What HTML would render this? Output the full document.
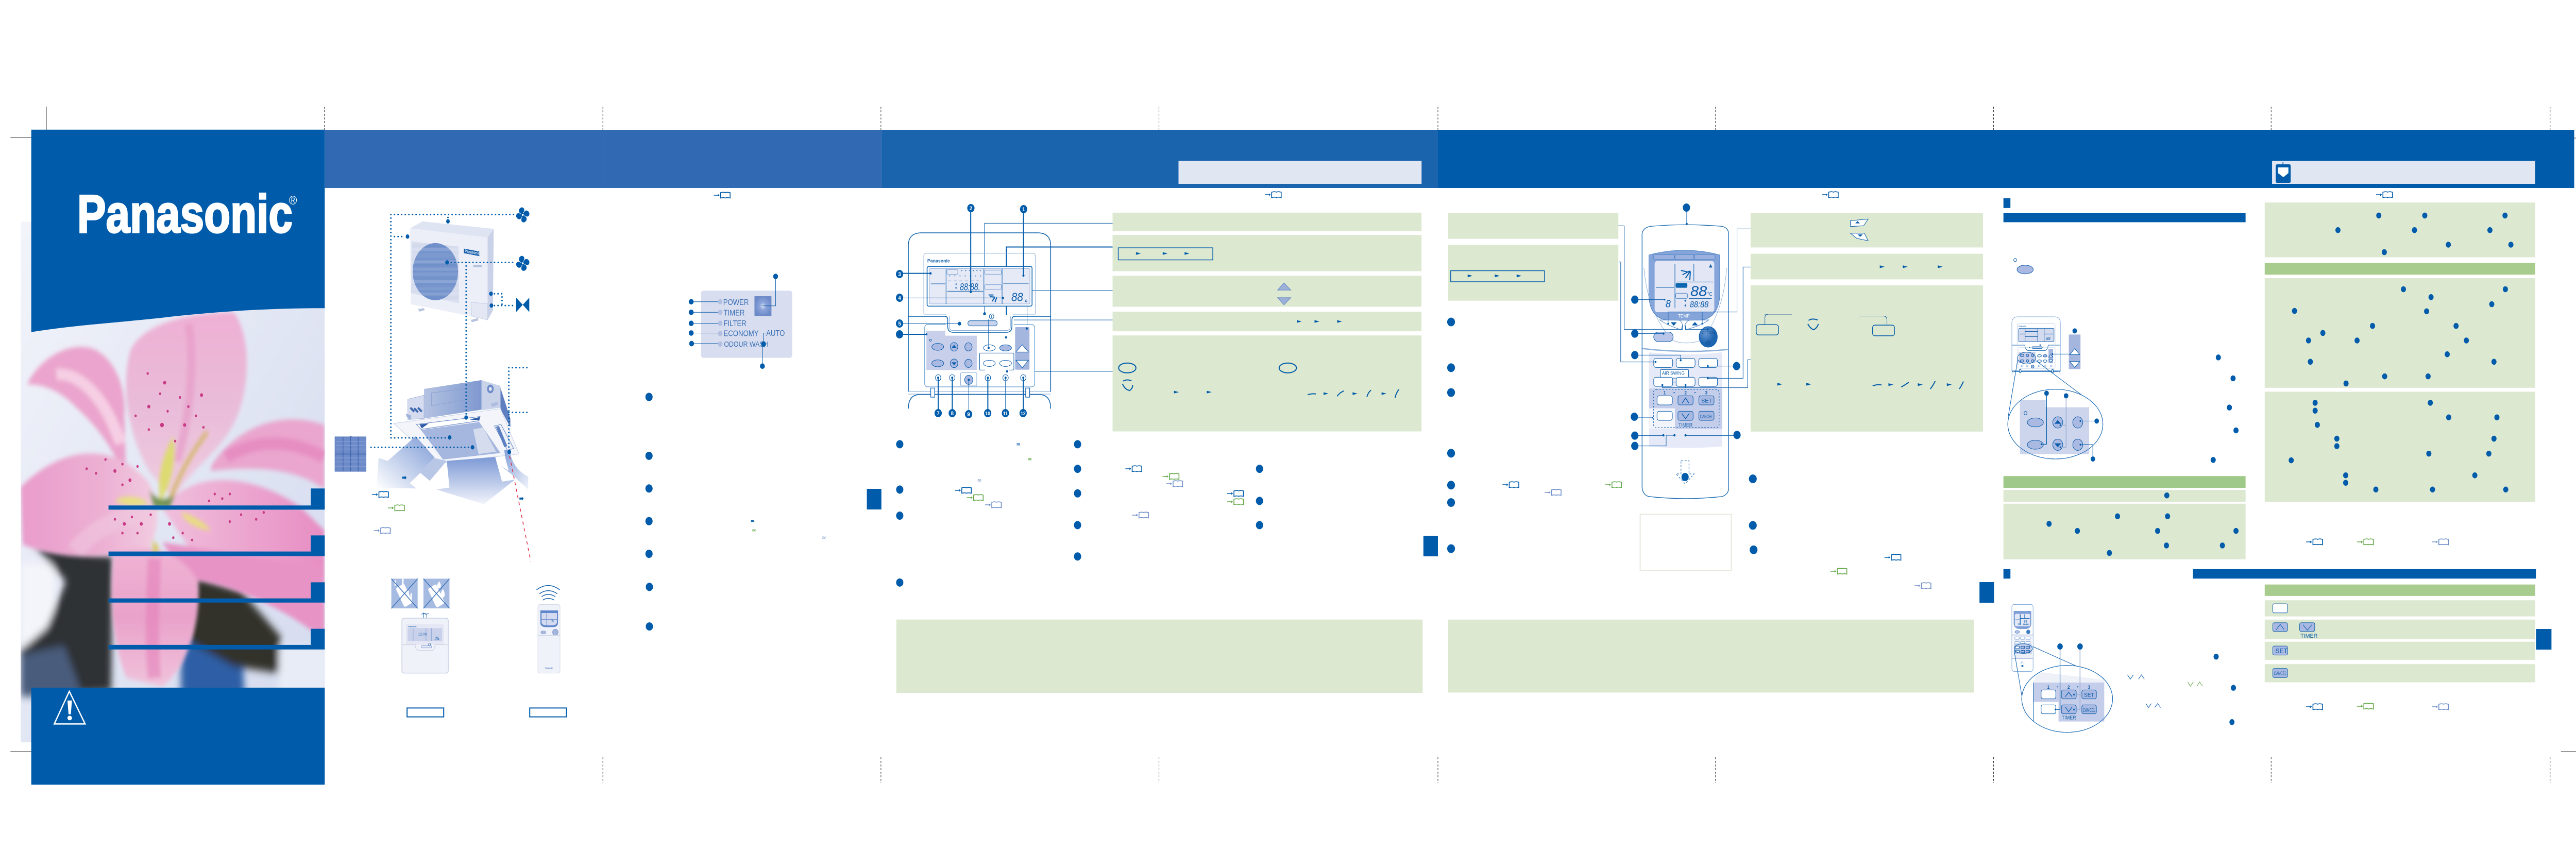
<!DOCTYPE html>
<html><head><meta charset="utf-8"><title>Panasonic</title>
<style>
html,body{margin:0;padding:0;background:#fff;width:100%;height:100%;overflow:hidden}
svg{display:block;width:100vw;height:100vh;font-family:"Liberation Sans",sans-serif}
svg *{vector-effect:non-scaling-stroke}
.l{fill:none;stroke:#005baa;stroke-width:1.4}
.t{fill:none;stroke:#005baa;stroke-width:2}
.tt{fill:none;stroke:#0a5cab;stroke-width:1}
.lb{fill:none;stroke:#7ba3d6;stroke-width:1}
.dot{fill:none;stroke:#005baa;stroke-width:3;stroke-linecap:round;stroke-dasharray:0 7}
.g{fill:#dce8d0}
.gh{fill:#a6cb8c}
.bl{fill:#005baa}
.bb{fill:#a9b9e2;stroke:#0a5cab;stroke-width:1}
.wb{fill:#fff;stroke:#0a5cab;stroke-width:1}
.cm{stroke:#333;stroke-width:1;fill:none}
.cd{stroke:#333;stroke-width:1;fill:none;stroke-dasharray:4 3}
text{fill:#0a5cab}
</style></head><body>
<svg xmlns="http://www.w3.org/2000/svg" viewBox="0 0 5670 1685" preserveAspectRatio="none">
<defs>
<ellipse id="d1" rx="9.6" ry="9" fill="#005baa"/>
<ellipse id="d3" rx="9.6" ry="10.9" fill="#005baa"/>
<ellipse id="d4" rx="10.4" ry="11" fill="#005baa"/>
<ellipse id="d5" rx="7" ry="7.5" fill="#005baa"/>
<circle id="dd" r="24" fill="#005baa"/>
<path id="tri" d="M-6-3.5L7 0-6 3.5z" fill="#005baa"/>
<g id="bk"><path d="M0 0H9" stroke="currentColor" stroke-width="1.5" fill="none"/><path d="M9-2.5L13 0 9 2.5z" fill="currentColor"/><path d="M15-5q7-1.600 10.500 0q3.500-1.600 10.500 0v10.500q-7-1.600-10.500 0q-3.500-1.600-10.500 0z" fill="none" stroke="currentColor" stroke-width="1.6"/></g>
<path id="bl" d="M-4-6C-30-6-34-36-8-44C14-44 16-20 -4-6Z" fill="#005baa"/>
<g id="fan"><circle r="12" fill="#005baa"/><use href="#bl"/><use href="#bl" transform="rotate(90)"/><use href="#bl" transform="rotate(180)"/><use href="#bl" transform="rotate(270)"/><circle r="6" fill="#fff"/></g>
<linearGradient id="bg" x1="0" y1="0" x2="1" y2="1"><stop offset="0" stop-color="#f2f4fa"/><stop offset=".6" stop-color="#dfe4f3"/><stop offset="1" stop-color="#d3daee"/></linearGradient>
<linearGradient id="p1" x1="0" y1="0" x2="0" y2="1"><stop offset="0" stop-color="#eeb0d4"/><stop offset=".5" stop-color="#e9bcd9"/><stop offset="1" stop-color="#eeccdf"/></linearGradient>
<linearGradient id="p2" x1="0" y1="0" x2="1" y2="0"><stop offset="0" stop-color="#e99ccb"/><stop offset=".6" stop-color="#ecb0d3"/><stop offset="1" stop-color="#f2cce0"/></linearGradient>
<linearGradient id="p3" x1="0" y1="0" x2="1" y2="0"><stop offset="0" stop-color="#f0bfdc"/><stop offset="1" stop-color="#e78dc3"/></linearGradient>
<linearGradient id="p4" x1="0" y1="0" x2="0" y2="1"><stop offset="0" stop-color="#efb4d4"/><stop offset=".5" stop-color="#e9a2ca"/><stop offset="1" stop-color="#f0c2db"/></linearGradient>
<linearGradient id="air1" x1="1" y1="0" x2="0" y2="1"><stop offset="0" stop-color="#7e9bd6"/><stop offset="1" stop-color="#ffffff"/></linearGradient>
<linearGradient id="air2" x1="0" y1="0" x2="0" y2="1"><stop offset="0" stop-color="#7c99d5"/><stop offset="1" stop-color="#f2f4fb"/></linearGradient>
<linearGradient id="air3" x1="0" y1="0" x2="1" y2="1"><stop offset="0" stop-color="#7c99d5"/><stop offset="1" stop-color="#f2f4fb"/></linearGradient>
<linearGradient id="box" x1="0" y1="0" x2="1" y2="0"><stop offset="0" stop-color="#b4c3e2"/><stop offset="1" stop-color="#7e98cf"/></linearGradient>
<radialGradient id="sun"><stop offset="0" stop-color="#e8ecf8"/><stop offset=".35" stop-color="#8ea6dc"/><stop offset="1" stop-color="#6d8ac8"/></radialGradient>
<radialGradient id="onb" cx=".35" cy=".3"><stop offset="0" stop-color="#6e9ad4"/><stop offset="1" stop-color="#1d65b0"/></radialGradient>
<pattern id="grill" width="12" height="12" patternUnits="userSpaceOnUse"><rect width="12" height="12" fill="none"/><path d="M0 3H12M0 9H12" stroke="#ffffff" stroke-opacity=".55" stroke-width="1"/></pattern>
<filter id="b6" x="-10%" y="-10%" width="120%" height="120%"><feGaussianBlur stdDeviation="5"/></filter>
<filter id="b14" x="-20%" y="-20%" width="140%" height="140%"><feGaussianBlur stdDeviation="9"/></filter>
<clipPath id="ph"><rect x="55" y="258" width="807" height="1132"/></clipPath>
</defs>

<!-- crop marks -->
<path class="cm" d="M102 207V254M23 267H69M23 1459H81M102 1470V1520M5637 268H5670M5637 1459H5670"/>
<path class="cd" d="M1327 207V252M1939 207V252M2551 207V252M3165 207V252M3776 207V252M4388 207V252M4999 207V252M5613 207V252M714 207V252M1327 1470V1520M1939 1470V1520M2551 1470V1520M3165 1470V1520M3776 1470V1520M4388 1470V1520M4999 1470V1520M5613 1470V1520"/>

<!-- FLOWER -->
<g transform="translate(0,200) scale(.8292,.8929)">
 <g clip-path="url(#ph)">
  <rect x="55" y="258" width="807" height="1132" fill="url(#bg)"/>
  <g filter="url(#b14)">
   <rect x="55" y="1000" width="90" height="180" fill="#f4f5fa"/>
   <path d="M95 965L300 985 295 1280 55 1290 55 1190 125 1140 175 1040Z" fill="#2f3034"/>
   <path d="M55 1200L170 1180 220 1290H55Z" fill="#4a5c7c"/>
   <path d="M480 1170L640 1160 650 1290H480Z" fill="#2f5fa6"/>
   <path d="M520 1030L640 1060 745 1160 745 1240 620 1225 500 1170 510 1100Z" fill="#32322a"/>
   <rect x="740" y="1180" width="130" height="110" fill="#e8ecf6"/>
  </g>
  <g filter="url(#b6)">
   <path d="M72 612C100 560 180 515 250 535C300 555 335 610 330 680L335 820C290 730 240 690 200 660C160 625 110 610 72 612Z" fill="#eba4cd"/>
   <path d="M150 590C210 585 280 640 320 740" stroke="#f6cfe4" stroke-width="22" fill="none"/>
   <path d="M395 800C340 720 320 620 345 540C370 490 470 455 620 455C665 500 665 610 630 680C590 760 510 790 460 860Z" fill="url(#p1)"/>
   <path d="M500 480C520 560 500 700 470 780" stroke="#e89cc8" stroke-width="16" fill="none" opacity=".7"/>
   <path d="M560 790C620 710 740 665 862 700L862 840C780 790 660 790 560 800Z" fill="#eaa6ce"/>
   <path d="M600 770C680 730 770 730 862 770" stroke="#e583bd" stroke-width="24" fill="none" opacity=".7"/>
   <path d="M55 835C150 755 290 725 395 825C430 880 420 930 395 970C320 985 180 1000 60 960Z" fill="url(#p2)"/>
   <path d="M430 880C520 790 680 810 800 880L862 930V1030L530 1000Z" fill="url(#p3)"/>
   <path d="M430 955L862 1010V1170C780 1110 620 1045 500 1035Z" fill="#e893c6"/>
   <path d="M300 985C340 955 470 955 525 1040C535 1120 500 1230 430 1268L335 1250C300 1180 290 1080 300 985Z" fill="url(#p4)"/>
   <path d="M410 990C405 1080 400 1170 410 1250" stroke="#e47db8" stroke-width="26" fill="none" opacity=".55"/>
   <path d="M400 900C320 890 240 930 200 975" stroke="#f0c8e0" stroke-width="34" fill="none" opacity=".6"/>
  </g>
  <g filter="url(#b6)" opacity=".95">
   <path d="M460 725C470 780 450 840 425 865C415 810 435 760 460 725Z" fill="#dcdc6c"/>
   <path d="M550 715C510 760 480 800 450 865" stroke="#d4b86e" stroke-width="8" fill="none"/>
   <path d="M305 865C330 850 370 855 395 870C360 880 330 875 305 865Z" fill="#e6e37c"/>
   <path d="M480 890C510 895 550 915 560 930C520 925 490 910 480 890Z" fill="#e8e07c"/>
   <path d="M395 840C405 860 440 870 465 850L450 880H410Z" fill="#6f9050"/>
   <path d="M405 950C415 960 425 960 420 975L405 985Z" fill="#d8c86c"/>
  </g>
  <g fill="#c93a85">
   <circle cx="392" cy="588" r="3"/><circle cx="437" cy="608" r="4"/><circle cx="425" cy="632" r="3"/><circle cx="395" cy="660" r="4"/><circle cx="445" cy="670" r="3"/><circle cx="478" cy="640" r="3"/><circle cx="535" cy="635" r="4"/><circle cx="520" cy="680" r="3"/><circle cx="490" cy="700" r="4"/><circle cx="430" cy="700" r="5"/><circle cx="395" cy="710" r="3"/><circle cx="465" cy="735" r="3"/><circle cx="360" cy="680" r="3"/><circle cx="540" cy="705" r="3"/><circle cx="500" cy="660" r="3"/>
   <circle cx="305" cy="800" r="4"/><circle cx="325" cy="785" r="3"/><circle cx="280" cy="775" r="3"/><circle cx="255" cy="805" r="3"/><circle cx="345" cy="820" r="4"/><circle cx="365" cy="790" r="3"/><circle cx="325" cy="830" r="3"/><circle cx="230" cy="795" r="3"/>
   <circle cx="330" cy="915" r="4"/><circle cx="350" cy="900" r="3"/><circle cx="375" cy="915" r="4"/><circle cx="305" cy="905" r="3"/><circle cx="325" cy="935" r="3"/><circle cx="400" cy="895" r="3"/><circle cx="365" cy="935" r="3"/>
   <circle cx="450" cy="915" r="4"/><circle cx="485" cy="935" r="3"/><circle cx="510" cy="950" r="3"/><circle cx="460" cy="945" r="3"/><circle cx="570" cy="850" r="3"/><circle cx="590" cy="860" r="3"/><circle cx="610" cy="850" r="3"/><circle cx="555" cy="865" r="3"/><circle cx="640" cy="895" r="3"/><circle cx="680" cy="905" r="3"/><circle cx="700" cy="890" r="3"/><circle cx="610" cy="910" r="3"/>
  </g>
 </g>
 <!-- cover blue -->
 <path fill="#005baa" d="M83 58H862V446C720 446 600 452 460 464C340 476 200 482 83 498Z"/>
 <rect x="83" y="1271" width="779" height="211" fill="#005baa"/>
 <path fill="#005baa" d="M825 838H862V884H288V875H825ZM825 940H862V985H288V975H825ZM825 1042H862V1086H288V1077H825ZM825 1143H862V1188H288V1178H825Z"/>
 <path d="M184 1279L226 1350H144Z" fill="none" stroke="#fff" stroke-width="2.500"/>
 <path d="M179 1299H191L188 1329H182Z" fill="#fff"/><ellipse cx="185" cy="1337" rx="6" ry="5" fill="#fff"/>
</g>
<text x="170" y="451" font-size="104" font-weight="bold" textLength="474" lengthAdjust="spacingAndGlyphs" stroke="#fff" stroke-width="3" style="fill:#fff">Panasonic</text>
<text x="636" y="397" font-size="24" style="fill:#fff">®</text>

<!-- HEADERS -->
<rect x="715" y="252" width="612" height="113" fill="#3169b3"/>
<rect x="1327" y="252" width="613" height="113" fill="#3169b3"/>
<rect x="1940" y="252" width="1225" height="113" fill="#1a63ad"/>
<rect x="3165" y="252" width="2501" height="113" fill="#005baa"/>
<rect x="2594" y="312" width="535" height="45" fill="#e1e6f3"/>
<rect x="5001" y="312" width="579" height="45" fill="#e1e6f3"/>
<rect x="5009" y="319" width="33" height="36" rx="3" fill="#005baa"/>
<path d="M5014 325H5037V336L5026 344 5014 336Z" fill="#fff"/><path d="M5025 319V314" stroke="#005baa" stroke-width="1.500"/>

<!-- section tabs -->
<g class="bl">
<rect x="1908" y="949" width="32" height="40"/>
<rect x="3133" y="1040" width="32" height="40"/>
<rect x="4357" y="1130" width="32" height="40"/>
<rect x="5582" y="1221" width="34" height="40"/>
</g>

<!-- OUTDOOR / INDOOR -->
<g transform="translate(720,380) scale(.33333,.3827)">
 <polygon points="548,165 630,130 1100,168 1060,212" fill="#dfe4f2"/>
 <polygon points="548,165 1060,212 1060,630 880,600 552,550" fill="#eceff8"/>
 <polygon points="1060,212 1100,168 1095,582 1060,630" fill="#c9d2e8"/>
 <polygon points="558,232 868,258 870,545 555,495" fill="#d3daec"/>
 <ellipse cx="715" cy="385" rx="150" ry="145" fill="#6f8fca"/>
 <polygon points="558,232 868,258 870,545 555,495" fill="url(#grill)"/>
 <polygon points="903,268 1005,283 1005,306 903,291" fill="#0e5aa8"/>
 <text transform="translate(908,288) scale(1,1.150) rotate(6)" font-size="20" font-weight="bold" style="fill:#e6ecf8">Panasonic</text>
 <polygon points="950,540 1060,548 1060,630 955,610" fill="#e4e8f4" stroke="#c6cfe4"/>
 <path d="M965 352H1022V362H965Z" fill="#b2c0dc"/>
 <path d="M600 575L640 570 645 580 610 588ZM950 630L995 620 1000 632 955 642Z" fill="#b9c5df"/>

 <polygon points="640,980 1020,935 1020,1085 640,1130" fill="url(#box)"/>
 <polygon points="690,1000 950,975 950,1030 690,1065" fill="none" stroke="#8aa0d0"/>
 <polygon points="1020,935 1145,965 1145,1075 1020,1088" fill="#c8d2e9"/>
 <polygon points="1145,975 1210,1130 1210,1175 1145,1082" fill="#5f7fc0"/>
 <polygon points="533,1032 640,1012 640,1130 533,1135" fill="#d5dcef" stroke="#a8b8da"/>
 <circle cx="1078" cy="980" r="22" fill="#6f8dc8"/><circle cx="1078" cy="980" r="10" fill="#e2e7f4"/>
 <path d="M550 1075L575 1095M575 1078L600 1098M600 1075L625 1095" stroke="#3f69ae" stroke-width="4"/>
 <polygon points="520,1105 555,1115 550,1140 525,1120" fill="#9fb1da"/>
 <polygon points="1080,1055 1125,1045 1130,1060 1090,1072" fill="#aebddf"/>
 <polygon points="440,1155 1145,1080 1267,1310 730,1358" fill="#f3f5fb" stroke="#c4cfe6"/>
 <polygon points="590,1160 1010,1120 1000,1142 620,1185" fill="#fff" stroke="#5f80c0"/>
 <polygon points="620,1188 1005,1148 1145,1305 765,1338" fill="#a5b7de"/>
 <polygon points="965,1185 1030,1175 1115,1298 1000,1310" fill="#d5dcee"/>
 <polygon points="1105,1168 1148,1160 1232,1282 1190,1290" fill="#eef1f8" stroke="#5f80c0"/>
 <polygon points="1115,1172 1135,1168 1190,1270 1170,1275" fill="#5d80c2"/>
 <polygon points="940,1135 1010,1122 1005,1140" fill="#2f5ca6"/>
 <polygon points="610,1160 670,1155 625,1180" fill="#2f5ca6"/>
 <polygon points="340,1330 400,1345 585,1220 710,1328 610,1410 545,1458 590,1485 325,1482" fill="url(#air1)"/>
 <polygon points="610,1402 678,1446 790,1345 705,1330" fill="#b8c7e6"/>
 <polygon points="790,1345 1110,1325 1155,1450 1240,1440 1035,1565 722,1490 808,1480" fill="url(#air2)"/>
 <path d="M1170 1290L1205 1290C1215 1350 1260 1400 1328 1425V1490C1270 1450 1220 1410 1145 1370L1200 1395C1185 1355 1175 1330 1170 1290Z" fill="url(#air3)"/>
 <rect x="52" y="1223" width="205" height="175" fill="#6d8bc9" stroke="#4a6db5"/>
 <path d="M105 1225V1396M155 1225V1396M205 1225V1396M52 1310H257" stroke="#3f63ae" stroke-width="1.500"/>
 <path d="M52 1245H257M52 1265H257M52 1285H257M52 1330H257M52 1350H257M52 1372H257" stroke="#8ea7d8" stroke-width="1"/>
 <rect x="150" y="1218" width="12" height="7" fill="#5a7ac0"/>
 <path d="M495 1425h18v-5l12 10-12 10v-5h-18z" fill="#005baa"/>
 <path d="M1270 1531h16v-5l12 10-12 10v-5h-16z" fill="#005baa"/>

 <path class="dot" d="M421 95H1235M421 95V1228H790M798 110V95M445 207H510M820 338H1235M918 338V1120M1105 497H1155V557M1105 557H1235M1200 872V1290M1200 872H1325M1200 1099H1325M290 1276H945"/>
 <path d="M1205 1320L1345 1855" stroke="#e3304a" stroke-width="1.500" stroke-dasharray="6 7" fill="none"/>
 <g fill="#005baa">
  <ellipse cx="798" cy="130" rx="12" ry="11"/><ellipse cx="531" cy="207" rx="12" ry="11"/><ellipse cx="792" cy="338" rx="12" ry="11"/>
  <ellipse cx="1082" cy="497" rx="12" ry="11"/><ellipse cx="1085" cy="557" rx="12" ry="11"/><ellipse cx="918" cy="1125" rx="12" ry="11"/>
  <ellipse cx="809" cy="1226" rx="12" ry="11"/><ellipse cx="960" cy="1276" rx="12" ry="11"/><ellipse cx="1203" cy="1300" rx="12" ry="11"/>
 </g>
 <g transform="translate(1292,97) scale(1,.87)"><use href="#fan"/></g>
 <g transform="translate(1292,343) scale(1,.87)"><use href="#fan"/></g>
 <polygon points="1248,517 1292,553 1335,517 1335,590 1292,553 1248,590" fill="#005baa"/>
</g>

<!-- Controller photos -->
<g transform="translate(840,1100) scale(.33333)">
 <rect x="64" y="70" width="174" height="173" fill="#a6bbe2"/><rect x="276" y="70" width="172" height="173" fill="#a6bbe2"/>
 <rect x="118" y="105" width="62" height="125" rx="10" transform="rotate(-28 149 167)" fill="#fff"/>
 <path d="M90 80V110M140 70V105M175 140V180M195 155V190" stroke="#fff" stroke-width="3"/>
 <rect x="330" y="108" width="62" height="125" rx="10" transform="rotate(-28 361 170)" fill="#fff"/>
 <path d="M380 85C395 105 395 125 378 125C362 125 362 105 380 85ZM405 130C422 155 420 180 402 180C385 180 385 155 405 130Z" fill="#fff"/>
 <path d="M64 70L238 243M238 70L64 243M276 70L448 243M448 70L276 243" stroke="#3d74b9" stroke-width="1.500"/>
 <path d="M277 300V270L264 278M277 270L290 278M298 300V277L285 272M298 277L312 272" class="tt"/>
 <rect x="134" y="300" width="306" height="320" rx="14" fill="#f0f2f9" stroke="#c7cfe2" stroke-width="1.500"/>
 <rect x="160" y="335" width="252" height="120" fill="#e5e8f4"/>
 <rect x="172" y="358" width="228" height="75" fill="#c9d2ea"/>
 <path d="M208 358V433M293 358V433M330 358V433" stroke="#8ba4d6" stroke-width="1"/>
 <text x="176" y="352" font-size="11" font-weight="bold">Panasonic</text>
 <text x="241" y="400" font-size="23" style="fill:#3c6fb5">12:00</text>
 <text x="350" y="428" font-size="28" font-style="italic" style="fill:#1a63ad">25</text>
 <path d="M134 455H222Q222 488 250 488H330Q352 488 352 455H440" stroke="#c7cfe2" fill="none"/>
 <rect x="262" y="460" width="68" height="13" rx="6" fill="#e5e8f4" stroke="#8ba4d6"/>
 <circle cx="316" cy="453" r="7" fill="none" stroke="#5a8bc8"/>
 <rect x="168" y="823" width="242" height="52" class="t" style="fill:#fff"/>
 <rect x="978" y="823" width="242" height="52" class="t" style="fill:#fff"/>
 <path d="M1023 135Q1100 85 1176 135M1042 158Q1100 122 1160 158M1056 175Q1100 148 1148 175M1064 195Q1100 175 1140 195" fill="none" stroke="#1a63ad" stroke-width="1.500"/>
 <rect x="1032" y="220" width="146" height="400" rx="14" fill="#f0f2f9" stroke="#d0d7e6"/>
 <path d="M1048 255H1165V325Q1165 352 1130 352H1085Q1048 352 1048 325Z" fill="#5f88cc"/>
 <path d="M1056 270H1158V320Q1158 342 1128 342H1086Q1056 342 1056 320Z" fill="#d4dbf0"/>
 <path d="M1090 270V342M1056 308H1158" stroke="#6d8fcb"/>
 <text x="1115" y="322" font-size="20" style="fill:#2f6ab5">25</text>
 <rect x="1050" y="373" width="36" height="20" rx="9" fill="#a4b5de"/>
 <circle cx="1147" cy="382" r="18" fill="#a4b5de" stroke="#8097c7"/>
 <path d="M1032 400H1178" stroke="#c7cfe2"/>
 <text x="1080" y="594" font-size="10" font-weight="bold" style="fill:#3c6fb5">Panasonic</text>
</g>

<!-- BOOK ICONS -->
<g color="#005baa">
<use href="#bk" x="819" y="960"/><use href="#bk" x="1571" y="379"/><use href="#bk" x="2784" y="378"/><use href="#bk" x="2102" y="952"/><use href="#bk" x="2477" y="910"/><use href="#bk" x="2701" y="958"/><use href="#bk" x="4010" y="378"/><use href="#bk" x="3307" y="941"/><use href="#bk" x="4148" y="1082"/><use href="#bk" x="5230" y="378"/><use href="#bk" x="5076" y="1052"/><use href="#bk" x="5076" y="1372"/>
</g>
<g color="#63a84a">
<use href="#bk" x="854" y="986"/><use href="#bk" x="2128" y="966"/><use href="#bk" x="2559" y="925"/><use href="#bk" x="2701" y="974"/><use href="#bk" x="3533" y="941"/><use href="#bk" x="4029" y="1109"/><use href="#bk" x="5188" y="1052"/><use href="#bk" x="5188" y="1371"/>
</g>
<g color="#6f8fc8">
<use href="#bk" x="823" y="1030"/><use href="#bk" x="2168" y="980"/><use href="#bk" x="2567" y="939"/><use href="#bk" x="2492" y="1000"/><use href="#bk" x="3400" y="956"/><use href="#bk" x="4214" y="1137"/><use href="#bk" x="5353" y="1052"/><use href="#bk" x="5353" y="1372"/>
</g>
<g font-size="11" font-weight="bold">
<text x="2237" y="866">≃</text><text x="2262" y="895" style="fill:#63a84a">≃</text><text x="2151" y="936" style="fill:#6f8fc8">≃</text>
<text x="1652" y="1015">≃</text><text x="1655" y="1033" style="fill:#63a84a">≃</text><text x="1809" y="1047" style="fill:#6f8fc8">≃</text>
</g>

<!-- PANEL 2 LED -->
<g transform="translate(1300,200) scale(.8292,.8929)">
 <rect x="293" y="408" width="242" height="146" rx="6" fill="#d8deef"/>
 <rect x="435" y="420" width="45" height="43" fill="url(#sun)"/>
 <path class="tt" d="M267 432H340M267 455H340M267 479H340M267 500H340M268 523H340M491 377V441H455M459 524V500H466M456 524V572"/>
 <g fill="#b4c0e2"><circle cx="344" cy="432" r="6"/><circle cx="344" cy="455" r="6"/><circle cx="344" cy="479" r="6"/><circle cx="344" cy="501" r="6"/><circle cx="344" cy="524" r="6"/></g>
 <g font-size="18">
  <text x="352" y="439" style="fill:#3a6fb5">POWER</text><text x="353" y="462" style="fill:#3a6fb5">TIMER</text><text x="353" y="485" style="fill:#3a6fb5">FILTER</text><text x="353" y="507" style="fill:#3a6fb5">ECONOMY</text><text x="354" y="530" font-size="17" style="fill:#3a6fb5">ODOUR WASH</text><text x="466" y="506" style="fill:#3a6fb5">AUTO</text>
 </g>
 <g>
  <ellipse cx="491" cy="377" rx="6.500" ry="6" fill="#005baa"/><ellipse cx="267" cy="432" rx="6.500" ry="6" fill="#005baa"/><ellipse cx="267" cy="455" rx="6.500" ry="6" fill="#005baa"/><ellipse cx="267" cy="479" rx="6.500" ry="6" fill="#005baa"/><ellipse cx="267" cy="500" rx="6.500" ry="6" fill="#005baa"/><ellipse cx="268" cy="523" rx="6.500" ry="6" fill="#005baa"/><ellipse cx="459" cy="524" rx="6.500" ry="6" fill="#005baa"/><ellipse cx="456" cy="572" rx="6.500" ry="6" fill="#005baa"/>
 </g>
 <use href="#d1" x="155" y="639"/><use href="#d1" x="155" y="767"/><use href="#d1" x="155" y="838"/><use href="#d1" x="155" y="909"/><use href="#d1" x="155" y="980"/><use href="#d1" x="156" y="1052"/><use href="#d1" x="156" y="1138"/>
</g>

<!-- PANEL 3 green -->
<g transform="translate(1900,250) scale(.8292,.7334)">
 <g class="g">
  <rect x="662" y="222" width="820" height="49"/><rect x="662" y="281" width="820" height="96"/><rect x="662" y="389" width="820" height="82"/><rect x="662" y="484" width="820" height="52"/><rect x="662" y="547" width="820" height="254"/>
  <rect x="88" y="1299" width="1397" height="194"/>
 </g>
 <rect x="677" y="315" width="251" height="32" class="l"/>
 <use href="#tri" x="730" y="330"/><use href="#tri" x="801" y="330"/><use href="#tri" x="859" y="330"/>
 <polygon points="1117,408 1135,427 1100,427" fill="#9db0d9" stroke="#5f86c2"/>
 <polygon points="1100,447 1135,447 1117,466" fill="#9db0d9" stroke="#5f86c2"/>
 <use href="#tri" x="1157" y="510"/><use href="#tri" x="1204" y="510"/><use href="#tri" x="1264" y="510"/>
 <ellipse cx="701" cy="633" rx="23" ry="13" class="t"/><ellipse cx="1127" cy="633" rx="23" ry="13" class="t"/>
 <path d="M688 675Q695 690 705 692M715 678Q716 688 705 694M690 668Q700 662 712 667" class="t"/>
 <use href="#tri" x="831" y="697"/><use href="#tri" x="918" y="697"/><use href="#tri" x="1228" y="701"/><use href="#tri" x="1305" y="701"/><use href="#tri" x="1382" y="701"/>
 <path d="M1180 704Q1190 700 1202 702" class="t"/><path d="M1258 708Q1265 698 1276 694" class="t"/><path d="M1337 710Q1340 698 1348 692" class="t"/><path d="M1412 712Q1414 700 1422 690" class="t"/>
 <path class="tt" d="M662 250H322V490"/>
 <path class="t" d="M662 313H380V552"/>
 <path class="tt" d="M662 428H435V527"/>
 <path class="tt" d="M662 506H342V580"/>
 <path class="tt" d="M662 642H382"/>
 <ellipse cx="322" cy="490" rx="3.600" ry="4" fill="#005baa"/>
 <use href="#d3" x="97" y="835"/><use href="#d3" x="97" y="955"/><use href="#d3" x="97" y="1024"/><use href="#d3" x="97" y="1201"/><use href="#d3" x="569" y="835"/><use href="#d3" x="569" y="900"/><use href="#d3" x="569" y="965"/><use href="#d3" x="569" y="1049"/><use href="#d3" x="569" y="1132"/><use href="#d3" x="1052" y="900"/><use href="#d3" x="1052" y="985"/><use href="#d3" x="1052" y="1049"/>
</g>

<!-- WIRED REMOTE -->
<g transform="translate(1990,440) scale(.33333)">
 <path class="l" d="M28 962V110Q28 38 110 36H885Q968 38 968 110V962" stroke-width="1.400"/>
 <path class="l" d="M28 1060Q28 980 100 978H895Q968 980 968 1060"/>
 <path class="lb" d="M28 960H968M28 975H968"/>
 <path class="lb" d="M130 510V172Q130 155 147 155H850Q866 155 866 172V510M130 510H280M720 510H866" style="stroke:#8fb0d8"/>
 <rect x="136" y="570" width="726" height="363" rx="18" fill="#fff" stroke="#5f9bd0" stroke-width="1.200"/>
 <rect x="152" y="232" width="693" height="231" rx="10" fill="#fff" stroke="#0e66b0" stroke-width="1.600"/>
 <rect x="166" y="244" width="665" height="206" rx="8" fill="#e6e9f6" stroke="#8ba7d8" stroke-width="1"/>
 <path class="tt" d="M277 245V450M527 245V450M647 245V450M177 333H273M655 330H822M285 376H522"/>
 <path class="tt" d="M290 316H518" stroke-dasharray="6 5"/>
 <rect x="283" y="250" width="72" height="28" rx="8" class="lb"/>
 <rect x="533" y="253" width="110" height="24" rx="6" class="lb"/><rect x="533" y="338" width="110" height="27" rx="6" class="lb"/>
 <path fill="#0a5cab" d="M376 254h10l-5 6zM402 254h10l-5 6zM428 254h10l-5 6zM452 254h10l-5 6zM476 254h10l-5 6zM498 254h10l-5 6zM296 285h10l-5 6zM330 285h10l-5 6zM364 285h10l-5 6zM398 285h10l-5 6zM432 285h10l-5 6zM465 285h10l-5 6zM500 285h10l-5 6zM346 328v13l-9-6.500zM346 350v13l-9-6.500z"/>
 <text x="368" y="370" font-size="58" font-style="italic" textLength="135" lengthAdjust="spacingAndGlyphs">88:88.</text>
 <text x="708" y="434" font-size="68" font-style="italic" textLength="78" lengthAdjust="spacingAndGlyphs">88</text>
 <circle cx="806" cy="432" r="6" class="tt"/>
 <path class="t" d="M558 398H590M565 408L598 410M580 435L600 412M600 440L612 412"/>
 <text x="153" y="208" font-size="27" font-weight="bold" textLength="150" lengthAdjust="spacingAndGlyphs" style="fill:#1a66b0">Panasonic</text>
 <path fill="#fff" d="M275 515H725V620H275Z"/>
 <path class="l" d="M28 522H268Q288 522 288 545V580Q288 615 322 615H678Q712 615 712 580V545Q712 522 732 522H968"/>
 <path class="lb" d="M298 522V580Q298 605 325 605H675Q702 605 702 580V522"/>
 <rect x="421" y="548" width="194" height="30" rx="15" fill="#c9d3ec" stroke="#0a5cab" stroke-width="1"/>
 <path fill="#c7cfea" d="M147 606H272V635H480V835H147Z"/>
 <ellipse cx="222" cy="700" rx="39" ry="20" class="bb"/><ellipse cx="222" cy="796" rx="39" ry="20" class="bb"/>
 <circle cx="330" cy="700" r="25" class="bb"/><circle cx="330" cy="796" r="25" class="bb"/>
 <path fill="#0a5cab" d="M330 688l16 17h-32zM314 790h32l-16 17z"/>
 <circle cx="425" cy="700" r="24" class="bb"/><circle cx="425" cy="796" r="24" class="bb"/>
 <circle cx="174" cy="661" r="6" class="tt"/>
 <ellipse cx="563" cy="706" rx="39" ry="18" class="wb"/><ellipse cx="670" cy="706" rx="39" ry="18" class="bb"/>
 <path class="tt" d="M535 835H505Q499 835 499 829V742Q499 736 505 736H719Q725 736 725 742V829Q725 835 719 835H695"/>
 <ellipse cx="563" cy="796" rx="39" ry="18" class="wb"/><ellipse cx="670" cy="796" rx="39" ry="18" class="wb"/>
 <rect x="733" y="585" width="95" height="248" rx="6" fill="#a4b5de"/>
 <polygon points="780,688 822,730 738,730" class="wb"/><polygon points="738,778 822,778 780,822" class="wb"/>
 <rect x="373" y="850" width="107" height="77" rx="6" fill="none" stroke="#8fb0d8"/>
 <circle cx="427" cy="892" r="27" class="bb"/>
 <circle cx="225" cy="880" r="18" class="wb"/><circle cx="318" cy="880" r="18" class="wb"/><circle cx="553" cy="880" r="18" class="wb"/><circle cx="670" cy="880" r="18" class="wb"/><circle cx="787" cy="880" r="18" class="wb"/>
 <rect x="176" y="940" width="26" height="53" class="wb" style="stroke-width:1.200"/><rect x="803" y="940" width="26" height="53" class="wb" style="stroke-width:1.200"/>
 <circle cx="578" cy="523" r="15" class="wb"/><path d="M578 513V533" class="tt"/>
 <path class="t" d="M440-110V380M788-100V285M-30 272H175M-30 627H148M225 880V1085M318 880V1085M553 880V1085M787 880V1085"/>
 <path class="tt" d="M-30 415H653M-30 565H366M427 892V1085M670 880V1085M558 540V706"/>
 <g fill="#005baa"><circle cx="175" cy="272" r="7"/><circle cx="440" cy="380" r="7"/><circle cx="788" cy="285" r="7"/><circle cx="653" cy="415" r="7"/><circle cx="148" cy="627" r="6"/><circle cx="366" cy="565" r="11"/><circle cx="673" cy="645" r="7"/><circle cx="810" cy="593" r="7"/><circle cx="558" cy="706" r="7"/><circle cx="680" cy="843" r="7"/><circle cx="532" cy="505" r="7"/><circle cx="225" cy="880" r="7"/><circle cx="318" cy="880" r="7"/><circle cx="427" cy="892" r="7"/><circle cx="553" cy="880" r="7"/><circle cx="670" cy="880" r="7"/><circle cx="787" cy="880" r="7"/></g>
</g>
<g font-size="11" font-weight="bold" text-anchor="middle">
 <circle cx="2137" cy="404" r="8" fill="#005baa"/><circle cx="2253" cy="406" r="8" fill="#005baa"/><circle cx="1980" cy="532" r="8" fill="#005baa"/><circle cx="1980" cy="578" r="8" fill="#005baa"/><circle cx="1980" cy="628" r="8" fill="#005baa"/><circle cx="1980" cy="649" r="8" fill="#005baa"/><circle cx="2065" cy="802" r="8" fill="#005baa"/><circle cx="2096" cy="802" r="8" fill="#005baa"/><circle cx="2132" cy="804" r="8" fill="#005baa"/><circle cx="2174" cy="802" r="8" fill="#005baa"/><circle cx="2213" cy="802" r="8" fill="#005baa"/><circle cx="2252" cy="802" r="8" fill="#005baa"/>
 <text x="2137" y="408" style="fill:#fff">2</text><text x="2253" y="410" style="fill:#fff">1</text><text x="1980" y="536" style="fill:#fff">3</text><text x="1980" y="582" style="fill:#fff">4</text><text x="1980" y="632" style="fill:#fff">5</text><text x="2065" y="806" style="fill:#fff">7</text><text x="2096" y="806" style="fill:#fff">8</text><text x="2132" y="808" style="fill:#fff">9</text><text x="2174" y="806" font-size="10" style="fill:#fff">10</text><text x="2213" y="806" font-size="10" style="fill:#fff">11</text><text x="2252" y="806" font-size="10" style="fill:#fff">12</text>
</g>

<!-- PANEL 4 -->
<g transform="translate(3150,250) scale(.8292,.7653)">
 <g class="g">
  <rect x="45" y="213" width="452" height="66"/><rect x="45" y="294" width="452" height="142"/>
  <rect x="848" y="213" width="617" height="88"/><rect x="848" y="317" width="617" height="65"/><rect x="848" y="397" width="617" height="371"/>
  <rect x="45" y="1245" width="1396" height="185"/>
 </g>
 <rect x="52" y="360" width="249" height="28" class="l"/>
 <use href="#tri" x="103" y="373"/><use href="#tri" x="175" y="373"/><use href="#tri" x="233" y="373"/>
 <use href="#tri" x="1197" y="350"/><use href="#tri" x="1258" y="350"/><use href="#tri" x="1351" y="350"/>
 <path d="M1113 233L1160 229 1148 246 1113 248Z" fill="#fff" stroke="#0a5cab"/><path d="M1126 240h12l-6-6z" fill="#0a5cab"/>
 <path d="M1113 265L1150 265 1160 284 1130 278Z" fill="#fff" stroke="#0a5cab"/><path d="M1132 268h14l-7 6z" fill="#0a5cab"/>
 <path d="M885 471H958" stroke="#8dabb5" fill="none"/><path class="tt" d="M1136 475H1200Q1210 475 1210 485V497"/>
 <path class="tt" d="M893 471Q886 471 886 480V497"/>
 <rect x="863" y="497" width="59" height="26" rx="6" class="l"/><rect x="1172" y="498" width="58" height="27" rx="6" class="l"/>
 <path class="t" d="M1000 495Q1005 505 1015 510M1028 495Q1025 505 1015 510M1002 486Q1012 480 1026 485"/>
 <use href="#tri" x="925" y="648"/><use href="#tri" x="1002" y="648"/><use href="#tri" x="1220" y="649"/><use href="#tri" x="1298" y="649"/><use href="#tri" x="1375" y="649"/>
 <path class="t" d="M1172 652Q1185 648 1196 650M1248 655Q1258 650 1268 643M1325 660Q1332 652 1338 640M1402 660Q1408 652 1413 641"/>
 <rect x="555" y="978" width="242" height="142" fill="none" stroke="#e6eadc" stroke-width="2"/>
 <use href="#d4" x="53" y="490"/><use href="#d4" x="53" y="606"/><use href="#d4" x="53" y="669"/><use href="#d4" x="53" y="823"/><use href="#d4" x="53" y="904"/><use href="#d4" x="53" y="948"/><use href="#d4" x="53" y="1065"/>
 <use href="#d4" x="854" y="888"/><use href="#d4" x="854" y="1006"/><use href="#d4" x="856" y="1068"/>
</g>

<!-- WIRELESS REMOTE -->
<g transform="translate(3560,420) scale(.33333)">
 <path d="M163 100Q170 65 220 58Q450 40 690 58Q730 65 735 100V1580Q735 1620 690 1632Q450 1655 210 1632Q170 1625 163 1580Z" fill="#fff" stroke="#005baa" stroke-width="1.200"/>
 <path d="M175 300Q200 560 360 720Q450 755 560 720Q700 560 722 300" class="lb" style="stroke-width:.8"/>
 <path d="M208 225Q440 170 676 225V470Q660 600 540 605H340Q220 600 208 470Z" fill="#85a5da" stroke="#4c82c4"/>
 <rect x="246" y="260" width="394" height="298" rx="18" fill="#e2e6f5"/>
 <rect x="240" y="222" width="135" height="30" rx="8" fill="#9ab1e0" stroke="#4a7fc0"/><rect x="380" y="222" width="125" height="30" rx="8" fill="#9ab1e0" stroke="#4a7fc0"/><rect x="508" y="222" width="137" height="30" rx="8" fill="#9ab1e0" stroke="#4a7fc0"/>
 <path class="tt" d="M380 277V533M505 277V378M390 382H633M255 414H375M472 478H623"/>
 <rect x="385" y="388" width="77" height="28" rx="8" fill="#0e66b0"/>
 <rect x="385" y="448" width="78" height="30" rx="8" fill="#dfe4f5" stroke="#5a8ccc"/>
 <path fill="#0a5cab" d="M615 278L627 298H605ZM452 484v14l-10-7zM452 512v14l-10-7z"/>
 <path class="t" d="M420 315L470 325M430 340L478 318M450 360L480 320M478 372L482 320"/>
 <text x="482" y="464" font-size="84" font-style="italic" textLength="110" lengthAdjust="spacingAndGlyphs">88</text>
 <text x="594" y="462" font-size="30">°C</text>
 <text x="478" y="530" font-size="50" font-style="italic" textLength="124" lengthAdjust="spacingAndGlyphs">88:88</text>
 <text x="318" y="530" font-size="62" font-style="italic">8</text>
 <text x="400" y="590" font-size="28" style="fill:#fff">TEMP</text>
 <path d="M280 603Q330 635 420 660L430 635Q425 610 408 605ZM603 603Q560 635 450 660L445 635Q455 610 475 605Z" fill="#fff" stroke="#4c82c4"/>
 <path fill="#0a5cab" d="M352 617h40l-20 20zM492 635h40l-20-20z"/>
 <rect x="240" y="674" width="128" height="56" rx="28" fill="#b8c5e8" stroke="#0a5cab"/>
 <circle cx="600" cy="702" r="60" fill="url(#onb)" stroke="#0a5cab"/>
 <text x="558" y="686" font-size="21" textLength="86" lengthAdjust="spacingAndGlyphs" style="fill:#0f4d90">OFF/ON</text>
 <circle cx="600" cy="737" r="12" fill="none" stroke="#0f4d90"/><path d="M600 730V743" stroke="#0f4d90"/>
 <path d="M165 770Q450 800 735 775" fill="none" stroke="#8fb0d8" stroke-width="2.500"/>
 <path d="M208 792Q450 815 692 792V1340Q450 1358 208 1340Z" fill="#e6e9f7"/>
 <rect x="240" y="827" width="125" height="53" rx="14" class="wb"/><rect x="388" y="827" width="125" height="53" rx="14" class="wb"/><rect x="537" y="827" width="124" height="53" rx="14" class="wb"/>
 <rect x="284" y="892" width="186" height="50" rx="5" class="wb"/>
 <text x="295" y="923" font-size="28">AIR SWING</text>
 <rect x="240" y="937" width="125" height="53" rx="14" class="wb"/><rect x="388" y="937" width="125" height="53" rx="14" class="wb"/><rect x="537" y="937" width="124" height="53" rx="14" class="wb"/>
 <path d="M365 965H388" class="tt"/>
 <path fill="#c4cde9" d="M210 1003H692V1238H380V1118H210Z"/>
 <rect x="210" y="1118" width="170" height="120" fill="#f2f4fb"/>
 <rect x="238" y="1008" width="434" height="222" rx="20" fill="none" stroke="#0a5cab" stroke-dasharray="3 3"/>
 <g font-size="28" font-weight="bold" text-anchor="middle"><text x="312" y="1037">1</text><text x="450" y="1037">2</text><text x="587" y="1037">3</text></g>
 <use href="#tri" x="377" y="1027"/><use href="#tri" x="515" y="1027"/>
 <rect x="262" y="1045" width="101" height="53" rx="14" class="wb"/><rect x="262" y="1135" width="101" height="53" rx="14" class="wb"/>
 <rect x="400" y="1045" width="100" height="53" rx="12" class="bb"/><rect x="538" y="1045" width="100" height="53" rx="12" class="bb"/>
 <rect x="400" y="1135" width="100" height="53" rx="12" class="bb"/><rect x="538" y="1135" width="100" height="53" rx="12" class="bb"/>
 <path class="t" d="M428 1088L450 1058 472 1088M425 1148L450 1178 475 1148" style="stroke-width:1.300"/>
 <text x="554" y="1085" font-size="34" textLength="70" lengthAdjust="spacingAndGlyphs">SET</text>
 <text x="545" y="1176" font-size="30" textLength="86" lengthAdjust="spacingAndGlyphs">CANCEL</text>
 <text x="403" y="1226" font-size="30">TIMER</text>
 <path fill="none" stroke="#0a5cab" stroke-dasharray="4 3" d="M420 1423H473V1500H507L447 1557 387 1500H420Z"/>
 <use href="#dd" x="447" y="1518"/>
 <path class="tt" d="M458-50V43M6 55H45V658H430V635M450 635V658H597M22 265V848H252M8 265H22M115 485H312M115 683H305M115 808H418V838M787 872H597M880 73H790V557H335V625M560 557V625M880 295H830V943H597M880 835H860V998H297V982M450 998V982M112 1170H232M115 1277H304M115 1337H322V1275H377M450 1277H790" style="stroke-width:1"/>
 <g fill="#005baa"><circle cx="458" cy="43" r="6"/><circle cx="312" cy="485" r="5"/><circle cx="305" cy="683" r="6"/><circle cx="418" cy="838" r="6"/><circle cx="252" cy="848" r="6"/><circle cx="597" cy="872" r="6"/><circle cx="597" cy="943" r="6"/><circle cx="297" cy="982" r="6"/><circle cx="450" cy="982" r="6"/><circle cx="597" cy="658" r="6"/><circle cx="335" cy="625" r="5"/><circle cx="560" cy="625" r="5"/><circle cx="232" cy="1172" r="5"/><circle cx="304" cy="1275" r="7"/><circle cx="377" cy="1275" r="7"/><circle cx="450" cy="1275" r="7"/></g>
 <use href="#dd" x="456" y="-51"/><use href="#dd" x="115" y="485"/><use href="#dd" x="115" y="683"/><use href="#dd" x="115" y="808"/><use href="#dd" x="787" y="872"/><use href="#dd" x="112" y="1167"/><use href="#dd" x="115" y="1277"/><use href="#dd" x="115" y="1337"/><use href="#dd" x="790" y="1273"/>
</g>

<!-- PANEL 5 -->
<g transform="translate(4400,250) scale(.81,.7653)">
 <g class="bl"><rect x="12" y="176" width="19" height="25"/><rect x="12" y="213" width="658" height="24"/><rect x="12" y="1117" width="19" height="24"/><rect x="527" y="1117" width="932" height="24"/></g>
 <rect x="12" y="881" width="658" height="30" fill="#9ec988"/>
 <rect x="12" y="916" width="658" height="30" class="g"/><rect x="12" y="951" width="658" height="141" class="g"/>
 <rect x="722" y="187" width="735" height="139" class="g"/><rect x="722" y="340" width="735" height="30" fill="#a8cb8e"/>
 <rect x="722" y="379" width="735" height="278" class="g"/><rect x="722" y="667" width="735" height="279" class="g"/>
 <rect x="722" y="1156" width="735" height="29" fill="#a8cb8e"/>
 <rect x="722" y="1196" width="735" height="41" class="g"/><rect x="722" y="1245" width="735" height="50" class="g"/><rect x="722" y="1301" width="735" height="46" class="g"/><rect x="722" y="1358" width="735" height="46" class="g"/>
 <ellipse cx="71" cy="357" rx="22" ry="11" class="bb"/><circle cx="44" cy="333" r="4" class="tt"/>
 <rect x="744" y="1205" width="40" height="23" rx="4" class="wb"/>
 <rect x="744" y="1253" width="40" height="22" rx="4" class="bb"/><rect x="817" y="1253" width="41" height="22" rx="4" class="bb"/>
 <path class="tt" d="M753 1271L764 1257 775 1271M826 1258L838 1272 850 1258"/>
 <text x="819" y="1291" font-size="15">TIMER</text>
 <rect x="744" y="1312" width="40" height="23" rx="4" class="bb"/><text x="751" y="1330" font-size="17">SET</text>
 <rect x="744" y="1369" width="40" height="23" rx="4" class="bb"/><text x="747" y="1386" font-size="13" textLength="34" lengthAdjust="spacingAndGlyphs">CANCEL</text>
 <path class="tt" d="M349 1385L357 1396 365 1385M379 1396L387 1385 395 1396M399 1458L406 1468 414 1458M423 1468L431 1458 439 1468"/>
 <path fill="none" stroke="#63a84a" d="M513 1403L520 1414 528 1403M538 1414L545 1403 553 1414"/>
 <g>
 <use href="#d5" x="596" y="580"/><use href="#d5" x="636" y="633"/><use href="#d5" x="626" y="707"/><use href="#d5" x="644" y="765"/><use href="#d5" x="582" y="840"/>
 <use href="#d5" x="456" y="930"/><use href="#d5" x="322" y="983"/><use href="#d5" x="458" y="983"/><use href="#d5" x="136" y="1002"/><use href="#d5" x="213" y="1020"/><use href="#d5" x="431" y="1020"/><use href="#d5" x="644" y="1020"/><use href="#d5" x="455" y="1057"/><use href="#d5" x="607" y="1057"/><use href="#d5" x="300" y="1076"/>
 <use href="#d5" x="590" y="1339"/><use href="#d5" x="637" y="1418"/><use href="#d5" x="633" y="1505"/>
 <use href="#d5" x="1032" y="220"/><use href="#d5" x="1157" y="220"/><use href="#d5" x="1375" y="220"/><use href="#d5" x="921" y="257"/><use href="#d5" x="1129" y="257"/><use href="#d5" x="1334" y="257"/><use href="#d5" x="1221" y="294"/><use href="#d5" x="1391" y="294"/><use href="#d5" x="1047" y="313"/>
 <use href="#d5" x="1099" y="407"/><use href="#d5" x="1376" y="407"/><use href="#d5" x="1174" y="427"/><use href="#d5" x="1339" y="445"/><use href="#d5" x="803" y="462"/><use href="#d5" x="1162" y="463"/><use href="#d5" x="1015" y="500"/><use href="#d5" x="1242" y="500"/><use href="#d5" x="880" y="518"/><use href="#d5" x="841" y="537"/><use href="#d5" x="973" y="537"/><use href="#d5" x="1270" y="537"/><use href="#d5" x="1218" y="572"/><use href="#d5" x="846" y="591"/><use href="#d5" x="1345" y="591"/><use href="#d5" x="1048" y="628"/><use href="#d5" x="1166" y="628"/><use href="#d5" x="943" y="646"/>
 <use href="#d5" x="859" y="695"/><use href="#d5" x="859" y="715"/><use href="#d5" x="1172" y="695"/><use href="#d5" x="1222" y="732"/><use href="#d5" x="1353" y="732"/><use href="#d5" x="865" y="751"/><use href="#d5" x="918" y="786"/><use href="#d5" x="918" y="805"/><use href="#d5" x="1345" y="786"/><use href="#d5" x="1168" y="824"/><use href="#d5" x="1331" y="824"/><use href="#d5" x="794" y="841"/><use href="#d5" x="942" y="879"/><use href="#d5" x="942" y="898"/><use href="#d5" x="1293" y="879"/><use href="#d5" x="1024" y="915"/><use href="#d5" x="1178" y="915"/><use href="#d5" x="1377" y="915"/>
 </g>
</g>

<!-- mini wired -->
<g transform="translate(4400,600) scale(.33333)">
 <path d="M85 362V80Q85 45 125 45H365Q405 45 405 80V362" fill="#fff" stroke="#7fa8d8" stroke-width="1"/>
 <path d="M120 205V95Q120 85 132 85H358Q370 85 370 95V205" fill="none" stroke="#c2d1ea"/>
 <rect x="130" y="112" width="233" height="78" rx="6" fill="#d5dbef" stroke="#1a6ab5"/>
 <path class="tt" d="M172 115V188M256 115V188M298 115V188M138 145H172M172 130H256M172 160H256M298 145H358"/>
 <text x="312" y="180" font-size="24" font-style="italic">88</text>
 <text x="130" y="103" font-size="10" font-weight="bold" style="fill:#1a66b0">Panasonic</text>
 <path d="M85 210H170Q175 240 195 242H300Q320 240 325 210H405" fill="none" stroke="#1a6ab5"/>
 <rect x="125" y="225" width="245" height="120" rx="8" fill="none" stroke="#c2d1ea"/>
 <rect x="218" y="219" width="68" height="10" rx="5" fill="#c9d3ec" stroke="#1a6ab5"/><circle cx="272" cy="210" r="5" fill="#3d7cc0"/><circle cx="202" cy="224" r="3" fill="#005baa"/>
 <rect x="130" y="250" width="110" height="65" fill="#c7cfea"/>
 <ellipse cx="152" cy="270" rx="13" ry="7" class="bb"/><ellipse cx="152" cy="302" rx="13" ry="7" class="bb"/><circle cx="188" cy="270" r="8" class="bb"/><circle cx="188" cy="302" r="8" class="bb"/><circle cx="222" cy="270" r="8" class="bb"/><circle cx="222" cy="302" r="8" class="bb"/>
 <ellipse cx="267" cy="272" rx="13" ry="7" class="wb"/><ellipse cx="304" cy="272" rx="13" ry="7" class="bb"/><ellipse cx="267" cy="303" rx="13" ry="7" class="wb"/><ellipse cx="304" cy="303" rx="13" ry="7" class="wb"/>
 <rect x="327" y="232" width="30" height="83" fill="#a4b5de"/>
 <polygon points="342,265 356,279 328,279" class="wb"/><polygon points="328,296 356,296 342,310" class="wb"/>
 <circle cx="153" cy="331" r="6" class="wb" style="stroke:#7fa8d8"/><circle cx="185" cy="331" r="6" class="wb" style="stroke:#7fa8d8"/><circle cx="222" cy="335" r="9" class="bb"/><circle cx="265" cy="331" r="6" class="wb" style="stroke:#7fa8d8"/><circle cx="304" cy="331" r="6" class="wb" style="stroke:#7fa8d8"/><circle cx="344" cy="331" r="6" class="wb" style="stroke:#7fa8d8"/>
 <path d="M85 360H405M85 364H405" stroke="#1a6ab5" fill="none"/>
 <rect x="136" y="352" width="9" height="18" class="wb"/><rect x="349" y="352" width="9" height="18" class="wb"/>
 <path d="M85 385Q88 366 100 364M405 385Q402 366 392 364" stroke="#c2d1ea" fill="none"/>
 <rect x="461" y="148" width="77" height="202" rx="4" fill="#a4b5de"/>
 <polygon points="500,230 533,265 467,265" class="wb"/><polygon points="467,305 533,305 500,340" class="wb"/>
 <path class="tt" d="M353 262H465"/><circle cx="353" cy="262" r="5" fill="#005baa"/>
 <ellipse cx="182" cy="285" rx="60" ry="34" class="tt"/>
 <path class="tt" d="M124 292L60 630M243 300L545 500"/>
 <ellipse cx="372" cy="670" rx="314" ry="203" fill="#fff" stroke="#1a6ab5" stroke-width="1"/>
 <path fill="#ccd5ec" d="M138 528H308V572H595V845H138Z"/>
 <ellipse cx="372" cy="670" rx="314" ry="203" fill="none" stroke="#1a6ab5" stroke-width="1"/>
 <circle cx="175" cy="606" r="10" class="tt"/>
 <ellipse cx="240" cy="660" rx="53" ry="26" class="bb"/><ellipse cx="240" cy="790" rx="53" ry="26" class="bb"/>
 <circle cx="388" cy="660" r="33" class="bb"/><circle cx="388" cy="790" r="33" class="bb"/>
 <path fill="#0a5cab" d="M388 646l22 22h-44zM366 782h44l-22 23z"/>
 <circle cx="520" cy="660" r="33" class="bb"/><circle cx="520" cy="790" r="33" class="bb"/>
 <path class="t" d="M314 490V787H280M537 790H620V873" style="stroke-width:1.200"/>
 <path fill="none" stroke="#9db0d6" stroke-width="1.500" d="M443 505V805H405M443 676H405"/>
 <path fill="none" stroke="#7b9bd0" d="M537 652H645"/>
 <g fill="#005baa"><circle cx="280" cy="787" r="5"/><circle cx="405" cy="676" r="5"/><circle cx="405" cy="805" r="5"/><circle cx="537" cy="652" r="5"/><circle cx="537" cy="790" r="5"/><circle cx="500" cy="127" r="15"/><circle cx="314" cy="490" r="15"/><circle cx="443" cy="505" r="15"/><circle cx="645" cy="652" r="15"/><circle cx="620" cy="873" r="15"/></g>
</g>

<!-- mini wireless -->
<g transform="translate(4400,1160) scale(.33333)">
 <rect x="85" y="40" width="140" height="390" rx="15" fill="#fff" stroke="#7fa8d8"/>
 <path d="M97 78H213V150Q213 183 170 183H140Q97 183 97 150Z" fill="#7f9fd8"/>
 <rect x="105" y="95" width="100" height="72" rx="8" fill="#e4e8f6"/>
 <path class="t" d="M140 97V160M170 97V120M140 122H202M108 130H140" style="stroke-width:1.200"/>
 <text x="163" y="145" font-size="20">88</text><text x="125" y="160" font-size="18" font-style="italic">8</text>
 <text x="160" y="160" font-size="14" font-weight="bold">88:88</text>
 <ellipse cx="120" cy="200" rx="15" ry="8" fill="#b8c5e8" stroke="#5a8ccc"/><circle cx="193" cy="200" r="13" fill="#3d7cc0"/>
 <path d="M85 218H225" stroke="#a4b5de" stroke-width="1.500"/>
 <rect x="96" y="220" width="120" height="135" fill="#eef0f9"/>
 <g class="wb" style="stroke:#7fa8d8">
 <rect x="105" y="229" width="28" height="14" rx="4"/><rect x="142" y="229" width="28" height="14" rx="4"/><rect x="178" y="229" width="28" height="14" rx="4"/><rect x="105" y="256" width="28" height="14" rx="4"/><rect x="142" y="256" width="28" height="14" rx="4"/><rect x="178" y="256" width="28" height="14" rx="4"/>
 </g>
 <rect x="98" y="272" width="118" height="55" fill="#c4cde9"/>
 <rect x="108" y="283" width="26" height="14" rx="3" class="wb"/><rect x="108" y="307" width="26" height="14" rx="3" class="wb"/><rect x="145" y="283" width="24" height="14" rx="3" class="bb"/><rect x="178" y="283" width="24" height="14" rx="3" class="bb"/><rect x="145" y="307" width="24" height="14" rx="3" class="bb"/><rect x="178" y="307" width="24" height="14" rx="3" class="bb"/>
 <ellipse cx="160" cy="297" rx="60" ry="28" class="tt"/>
 <path d="M85 355H225" stroke="#a4b5de"/>
 <path stroke="#5a8ccc" stroke-dasharray="3 3" fill="none" d="M148 375H165V395L155 405 142 395Z"/><circle cx="154" cy="398" r="5" fill="#005baa"/>
 <path class="tt" d="M222 285L690 470M100 310L155 595"/>
 <ellipse cx="450" cy="590" rx="300" ry="195" fill="#fff" stroke="#1a6ab5"/>
 <path fill="#c4cde9" d="M228 495H695V722H393V608H228Z"/>
 <path fill="#e8ebf6" d="M228 495H695L690 478 280 435 240 460Z" opacity=".7"/>
 <ellipse cx="450" cy="590" rx="300" ry="195" fill="none" stroke="#1a6ab5"/>
 <path class="tt" d="M227 495V720"/>
 <g font-size="28" font-weight="bold" text-anchor="middle"><text x="326" y="531">1</text><text x="460" y="531">2</text><text x="594" y="531">3</text></g>
 <use href="#tri" x="388" y="520"/><use href="#tri" x="522" y="520"/>
 <rect x="278" y="538" width="97" height="52" rx="12" class="wb"/><rect x="278" y="625" width="97" height="52" rx="12" class="wb"/>
 <rect x="412" y="538" width="98" height="52" rx="12" class="bb"/><rect x="412" y="625" width="98" height="52" rx="12" class="bb"/>
 <rect x="547" y="538" width="96" height="52" rx="12" class="bb"/><rect x="547" y="625" width="96" height="52" rx="12" class="bb"/>
 <path class="t" d="M437 578L460 552 483 578M437 637L460 665 483 637" style="stroke-width:1.200"/>
 <text x="561" y="578" font-size="34" textLength="68" lengthAdjust="spacingAndGlyphs">SET</text>
 <text x="553" y="666" font-size="30" textLength="84" lengthAdjust="spacingAndGlyphs">CANCEL</text>
 <text x="415" y="710" font-size="30">TIMER</text>
 <path class="t" d="M403 285V652H372" style="stroke-width:1.200"/>
 <path fill="none" stroke="#9db0d6" stroke-width="1.500" d="M535 285V652H510M547 565H510"/>
 <g fill="#005baa"><circle cx="372" cy="652" r="5"/><circle cx="495" cy="565" r="5"/><circle cx="495" cy="652" r="5"/><circle cx="403" cy="285" r="18"/><circle cx="535" cy="285" r="18"/></g>
</g>
</svg>
</body></html>
